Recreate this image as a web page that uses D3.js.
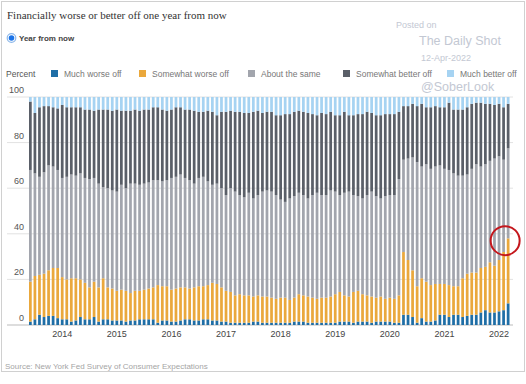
<!DOCTYPE html>
<html>
<head>
<meta charset="utf-8">
<script src="https://cdn.jsdelivr.net/npm/d3@7"></script>
<style>
  body { margin: 0; background: #fff; }
  svg { display: block; font-family: "Liberation Sans", Arial, sans-serif; }
</style>
</head>
<body>
<div id="chart"></div>
<script>
// monthly survey, Jun 2013 .. Mar 2022
var months = d3.timeMonth.range(new Date(2013, 5, 1), new Date(2022, 3, 1))
var yearTicks = ["2014", "2015", "2016", "2017", "2018", "2019", "2020", "2021", "2022"]
var yTicks = [0, 20, 40, 60, 80, 100]

var seriesNames = ["Much worse off", "Somewhat worse off", "About the same", "Somewhat better off", "Much better off"]
var seriesColors = ["#1f6ea6", "#eaa83c", "#a2a5ad", "#5a5f68", "#a6d3f2"]

var muchWorse = [
  1.5, 2.5, 4.5, 3.5, 4, 4, 3, 2.5, 2.5, 1.5,
  2, 3.5, 2.5, 2.5, 3.5, 1.5, 2.5, 2.5, 2, 2,
  2, 1.5, 2, 2, 2.5, 2.5, 2.5, 2.5, 1, 2,
  2, 1.5, 1.5, 2, 2.5, 2.5, 2, 2, 2.5, 2.5,
  2, 2, 1.5, 1.5, 1, 1, 1, 1, 1, 1.5,
  1.5, 1, 1, 1, 1, 1, 1, 1, 1.5, 1.5,
  1.5, 1, 1, 1, 1, 1, 1, 1, 1.5, 1.5,
  1.5, 1, 1.5, 1.5, 1.5, 1, 1.5, 1.5, 1.5, 1.5,
  1, 1, 4.5, 4.5, 3.5, 1, 3, 1.5, 1.5, 2,
  4.5, 4.5, 3.5, 4.5, 4.5, 3.5, 4, 4.5, 4.5, 5.5,
  6.5, 5.5, 5.5, 6, 6.5, 9.5]
var somewhatWorse = [
  17.5, 19, 17.5, 19, 20, 21, 22, 18.5, 17.5, 19,
  18.5, 16.5, 16, 14, 15.5, 15, 18, 14, 14, 13,
  13.5, 13.5, 12, 13, 12.5, 13, 13.5, 14, 16.5, 15,
  15, 14, 14.5, 14.5, 14, 13.5, 14.5, 15, 14.5, 15,
  16.5, 16, 15, 13.5, 13.5, 12, 12.5, 12, 12, 11,
  11.5, 11.5, 11.5, 11, 10.5, 11, 11, 10, 10.5, 12,
  11.5, 11.5, 11, 10.5, 11, 11, 11.5, 12.5, 13, 11.5,
  11, 13.5, 13.5, 12, 11.5, 11.5, 10.5, 11, 10, 10.5,
  10.5, 12, 27.5, 24, 20.5, 16, 17.5, 17.5, 16, 16,
  13.5, 13.5, 14, 12.5, 12.5, 17, 18.5, 18.5, 18.5, 19.5,
  19, 22, 20.5, 22.5, 25.5, 28.5]
var aboutSame = [
  49, 45, 43, 44.5, 46, 44.5, 43, 43.5, 45, 45.5,
  45, 46.5, 46, 47.5, 45.5, 45.5, 40, 43.5, 43, 43.5,
  46, 45, 48, 47, 46.5, 46.5, 46.5, 47, 46, 46,
  46.5, 49, 49, 49.5, 48, 47.5, 45.5, 47.5, 48, 45.5,
  43, 44, 43.5, 42, 45.5, 45.5, 43.5, 43, 45, 43,
  44, 46, 46.5, 46.5, 45.5, 43, 42, 44.5, 44.5, 44.5,
  44, 43, 45, 46.5, 45, 45, 46.5, 45, 42.5, 45,
  46, 42.5, 41.5, 42, 44, 46, 44.5, 43, 45, 45,
  45.5, 51, 40.5, 44.5, 49.5, 54.5, 49, 51.5, 51, 51.5,
  52, 50.5, 50.5, 49.5, 48.5, 45, 43.5, 45.5, 47.5, 44.5,
  45, 44.5, 47, 45.5, 40.5, 39.5]
var somewhatBetter = [
  30, 26.5, 30.5, 29, 26, 26, 27, 32, 30.5, 29.5,
  30, 29, 30, 30.5, 29.5, 32.5, 34, 34.5, 35, 36,
  32.5, 34, 32, 32.5, 32.5, 32.5, 32, 32, 32, 31.5,
  30.5, 30, 30.5, 29.5, 30, 31, 32, 29, 28.5, 31,
  32, 30, 33.5, 36.5, 34, 35, 36.5, 37, 35, 38,
  37, 34.5, 34.5, 35, 35, 37, 38.5, 37, 37, 36,
  36.5, 37.5, 35.5, 34, 36, 35.5, 34.5, 33.5, 35, 35.5,
  33.5, 35, 36, 37, 36.5, 34.5, 35.5, 36.5, 36, 35.5,
  35.5, 29.5, 23.5, 23, 23.5, 24.5, 27.5, 25, 27, 26.5,
  25.5, 27, 29.5, 28, 29, 29, 29.5, 28.5, 27, 28,
  26.5, 25, 23.5, 23, 23, 19.5]
var muchBetter = [
  2, 7, 4.5, 4, 4, 4.5, 5, 3.5, 4.5, 4.5,
  4.5, 4.5, 5.5, 5.5, 6, 5.5, 5.5, 5.5, 6, 5.5,
  6, 6, 6, 5.5, 6, 5.5, 5.5, 4.5, 4.5, 5.5,
  6, 5.5, 4.5, 4.5, 5.5, 5.5, 6, 6.5, 6.5, 6,
  6.5, 8, 6.5, 6.5, 6, 6.5, 6.5, 7, 7, 6.5,
  6, 7, 6.5, 6.5, 8, 8, 7.5, 7.5, 6.5, 6,
  6.5, 7, 7.5, 8, 7, 7.5, 6.5, 8, 8, 6.5,
  8, 8, 7.5, 7.5, 6.5, 7, 8, 8, 7.5, 7.5,
  7.5, 6.5, 4, 4, 3, 4, 3, 4.5, 4.5, 4,
  4.5, 4.5, 2.5, 5.5, 5.5, 5.5, 4.5, 3, 2.5, 2.5,
  3, 3, 3.5, 3, 4.5, 3]

var seriesValues = [muchWorse, somewhatWorse, aboutSame, somewhatBetter, muchBetter]

var W = 526, H = 384
var svg = d3.select("#chart").append("svg")
    .attr("width", W)
    .attr("height", H)

// outer frame
svg.append("rect")
    .attr("x", 1.5).attr("y", 1.5)
    .attr("width", W - 3).attr("height", 370)
    .attr("fill", "none").attr("stroke", "#d0d0d0")

// title + radio
svg.append("text").attr("x", 7).attr("y", 19)
    .text("Financially worse or better off one year from now")
    .style("font-family", "'Liberation Serif', 'DejaVu Serif', serif")
    .style("font-size", "11px").attr("fill", "#333")
svg.append("circle").attr("cx", 11.5).attr("cy", 38).attr("r", 4.3)
    .attr("fill", "#fff").attr("stroke", "#8db8ea").attr("stroke-width", 1.2)
svg.append("circle").attr("cx", 11.5).attr("cy", 38).attr("r", 2.8).attr("fill", "#1a73e8")
svg.append("text").attr("x", 19).attr("y", 41).text("Year from now")
    .style("font-size", "8px").style("font-weight", "bold").attr("fill", "#444")

// watermark
var wm = "#c3c8d3"
svg.append("text").attr("x", 396).attr("y", 28).text("Posted on").style("font-size", "9px").attr("fill", wm)
svg.append("text").attr("x", 419).attr("y", 45).text("The Daily Shot").style("font-size", "12.5px").attr("fill", wm)
svg.append("text").attr("x", 421).attr("y", 61).text("12-Apr-2022").style("font-size", "9px").attr("fill", wm)
svg.append("text").attr("x", 421).attr("y", 91).text("@SoberLook").style("font-size", "12.5px").attr("fill", wm)

// legend
svg.append("text").attr("x", 6).attr("y", 77).text("Percent").style("font-size", "8.5px").attr("fill", "#555")
var legX = [51, 139, 248, 343, 447]
seriesNames.forEach(function (name, i) {
    svg.append("rect").attr("x", legX[i]).attr("y", 70).attr("width", 7).attr("height", 7).attr("fill", seriesColors[i])
    svg.append("text").attr("x", legX[i] + 13).attr("y", 77).text(name)
        .style("font-size", "8.5px").attr("fill", "#777")
})

var x = d3.scaleBand()
    .domain(d3.range(months.length))
    .range([29, 509.5])
    .paddingInner(0.4)

var y = d3.scaleLinear()
    .domain([0, 100])
    .range([325, 97])

// gridlines + y labels
var grid = svg.append("g")
yTicks.forEach(function (t) {
    grid.append("line")
        .attr("x1", 7).attr("x2", W - 13)
        .attr("y1", y(t)).attr("y2", y(t))
        .attr("stroke", t == 0 ? "#bbb" : "#e2e2e2")
    grid.append("text").attr("x", 24).attr("y", y(t) - 4)
        .attr("text-anchor", "end").text(t)
        .style("font-size", "9px").attr("fill", "#555")
})

// build table and stack
var table = months.map(function (m, i) {
    var row = { i: i }
    seriesNames.forEach(function (s, k) { row[s] = seriesValues[k][i] })
    return row
})
var stacked = d3.stack().keys(seriesNames)(table)

svg.append("g")
    .selectAll("g")
    .data(stacked)
    .enter().append("g")
    .attr("fill", function (d, k) { return seriesColors[k] })
    .selectAll("rect")
    .data(function (d) { return d })
    .enter().append("rect")
    .attr("x", function (d) { return x(d.data.i) })
    .attr("y", function (d) { return y(d[1]) })
    .attr("height", function (d) { return y(d[0]) - y(d[1]) })
    .attr("width", x.bandwidth())

// x axis: year labels at January bars
var janIdx = months.map(function (m, i) { return m.getMonth() == 0 ? i : -1 }).filter(function (i) { return i >= 0 })
var xAxis = svg.append("g")
    .attr("transform", "translate(0,328)")
    .call(d3.axisBottom(x).tickValues(janIdx).tickSize(0)
        .tickFormat(function (d, k) { return yearTicks[k] }))
xAxis.select(".domain").remove()
xAxis.selectAll("text")
    .style("font-family", "'Liberation Sans', Arial, sans-serif")
    .style("font-size", "9px").attr("fill", "#444")

// highlight circle on latest reading
svg.append("circle")
    .attr("cx", x(months.length - 1) + x.bandwidth() / 2 - 3)
    .attr("cy", y(37))
    .attr("r", 14.5)
    .attr("fill", "none").attr("stroke", "#c4161c").attr("stroke-width", 2)

// source
svg.append("text").attr("x", 5).attr("y", 369).text("Source: New York Fed Survey of Consumer Expectations")
    .style("font-size", "8px").attr("fill", "#a5a5a5")
</script>
</body>
</html>
